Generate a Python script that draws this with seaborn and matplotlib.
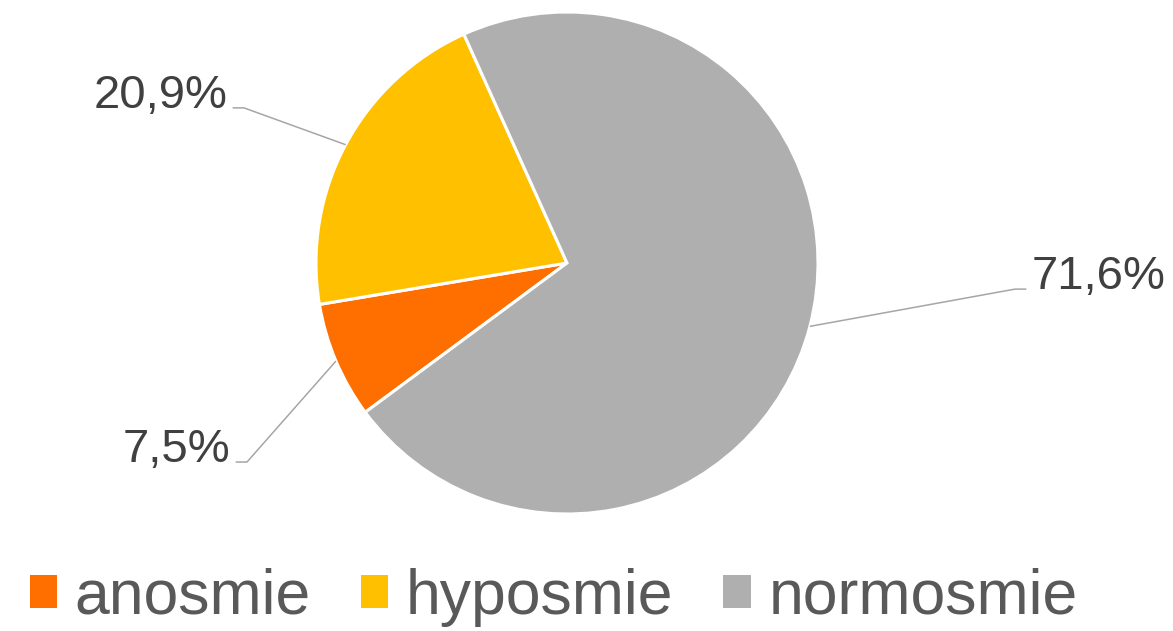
import numpy as np
import seaborn as sns
import matplotlib.pyplot as plt
from matplotlib.patches import Patch

categories = ["anosmie", "hyposmie", "normosmie"]
shares = [7.5, 20.9, 71.6]
pct_labels = ["7,5%", "20,9%", "71,6%"]
colors = ["#FF6F00", "#FFC000", "#AFAFAF"]

sns.set_theme(style="white")
plt.rcParams["font.family"] = ["Liberation Sans", "DejaVu Sans"]

fig = plt.figure(figsize=(11.73, 6.31), dpi=100)
ax = fig.add_axes([0, 0, 1, 1])
r_px = 251.0
cx, cy = 567.0, 263.0

wedges, _ = ax.pie(shares, colors=colors, startangle=216.5, counterclock=False,
                   radius=1, frame=True,
                   wedgeprops=dict(edgecolor="white", linewidth=2.2))
ax.set_xlim(-cx / r_px, (1173 - cx) / r_px)
ax.set_ylim(-(631 - cy) / r_px, cy / r_px)
ax.axis("off")

# elbow point of leader line, and which side text sits on
elbows = [(-1.275, -0.793), (-1.287, 0.618), (1.785, -0.104)]
sides = [-1, -1, 1]

for w, lab, (ex, ey), s in zip(wedges, pct_labels, elbows, sides):
    mid = np.deg2rad((w.theta1 + w.theta2) / 2)
    x0, y0 = np.cos(mid), np.sin(mid)
    xe = ex + s * 0.045
    ax.plot([x0, ex, xe], [y0, ey, ey], color="#A6A6A6", lw=1.1,
            solid_capstyle="butt")
    ax.text(xe + s * 0.02, ey, lab, fontsize=34, color="#404040",
            ha="left" if s > 0 else "right", va="baseline")

handles = [Patch(facecolor=c, edgecolor="none") for c in colors]
fig.legend(handles, categories, loc="lower center", ncol=3,
           bbox_to_anchor=(0.472, -0.043), frameon=False, fontsize=45,
           handlelength=0.44, handleheight=0.44, handletextpad=0.28,
           columnspacing=0.8, borderpad=0, labelcolor="#595959")

fig.savefig("out.png", dpi=100)
